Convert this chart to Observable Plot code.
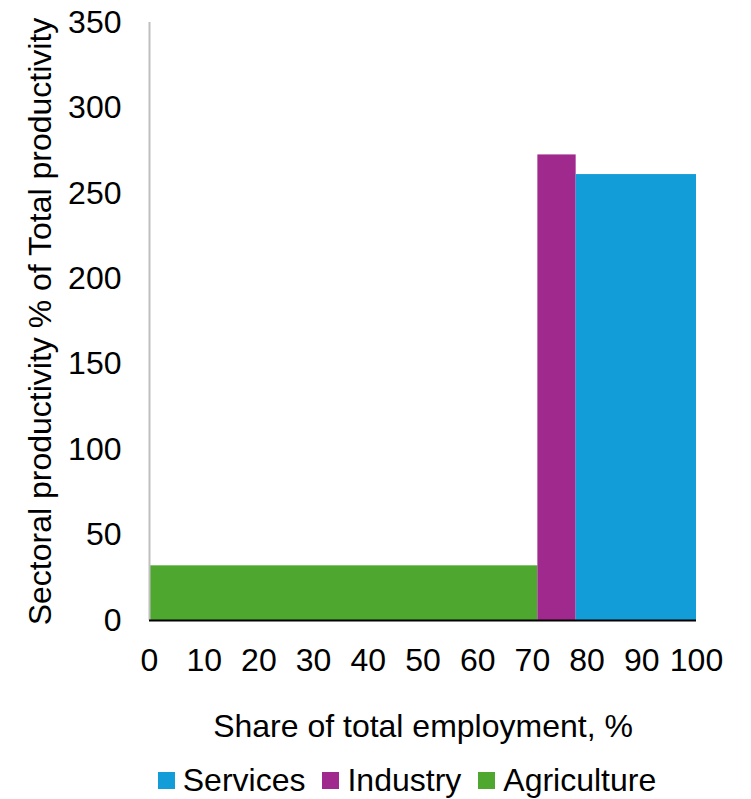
<!DOCTYPE html>
<html>
<head>
<meta charset="utf-8">
<script src="https://cdn.jsdelivr.net/npm/d3@7"></script>
<script src="https://cdn.jsdelivr.net/npm/@observablehq/plot@0.6"></script>
<style>
  body { margin: 0; background: #fff; font-family: "Liberation Sans", Arial, sans-serif; }
  #legend { position: absolute; top: 762px; left: 0; width: 751px; display: flex; justify-content: center; align-items: center; font-size: 32px; color: #000; padding-left: 80px; box-sizing: border-box; }
  #legend span.item { display: inline-flex; align-items: center; margin-right: 17px; }
  #legend span.sw { width: 17px; height: 17px; display: inline-block; margin-right: 8px; }
</style>
</head>
<body>
<div id="chart"></div>
<div id="legend"></div>
<script>
const sectors = ["Agriculture", "Industry", "Services"];
const employmentShare = [71, 7, 22];           // % of total employment
const productivity = [32, 272.5, 261];         // sectoral productivity, % of total
const colors = ["#4EA72E", "#A0298E", "#139DD8"];
const legendOrder = ["Services", "Industry", "Agriculture"];
const xTicks = [0, 10, 20, 30, 40, 50, 60, 70, 80, 90, 100];
const yTicks = [0, 50, 100, 150, 200, 250, 300, 350];

let cum = 0;
const data = sectors.map((s, i) => {
  const x1 = cum; cum += employmentShare[i];
  return {sector: s, x1, x2: cum, y: productivity[i]};
});

const plot = Plot.plot({
  width: 751,
  height: 755,
  marginLeft: 149,
  marginRight: 55,
  marginTop: 22,
  marginBottom: 135,
  style: {fontSize: "32px", fontFamily: "'Liberation Sans', Arial, sans-serif", color: "#000", background: "#fff"},
  x: {domain: [0, 100]},
  y: {domain: [0, 350]},
  color: {domain: sectors, range: colors},
  marks: [
    Plot.rect(data, {x1: "x1", x2: "x2", y1: 0, y2: "y", fill: "sector"}),
    Plot.ruleX([0], {stroke: "#bfbfbf", strokeWidth: 2}),
    Plot.ruleY([0], {stroke: "#000", strokeWidth: 2}),
    Plot.axisY({ticks: yTicks, tickSize: 0, tickPadding: 28, label: "Sectoral productivity % of Total productivity", labelAnchor: "center", labelArrow: "none", labelOffset: 121, fontSize: 32}),
    Plot.axisX({ticks: xTicks, tickSize: 0, tickPadding: 28, label: "Share of total employment, %", labelAnchor: "center", labelArrow: "none", labelOffset: 116, fontSize: 32})
  ]
});
document.getElementById("chart").appendChild(plot);

const legend = document.getElementById("legend");
legendOrder.forEach(name => {
  const item = document.createElement("span");
  item.className = "item";
  const sw = document.createElement("span");
  sw.className = "sw";
  sw.style.background = colors[sectors.indexOf(name)];
  item.appendChild(sw);
  item.appendChild(document.createTextNode(name));
  legend.appendChild(item);
});
</script>
</body>
</html>
